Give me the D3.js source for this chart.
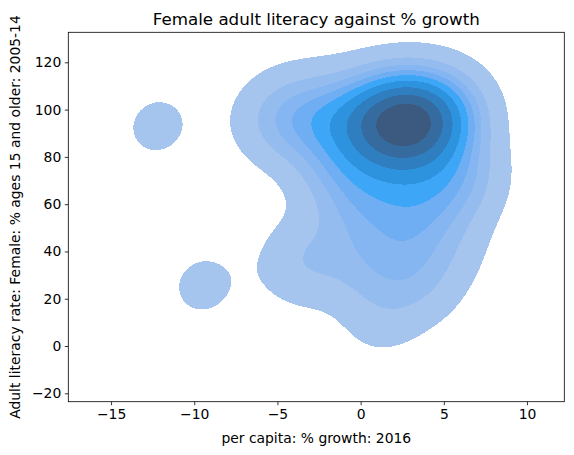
<!DOCTYPE html>
<html><head><meta charset="utf-8">
<script src="https://cdn.jsdelivr.net/npm/d3@7"></script>
<style>body{margin:0;background:#fff} svg{display:block} text{font-family:"DejaVu Sans",sans-serif;fill:#000}</style>
</head><body><svg id="c" width="574" height="455"></svg>
<script>
// per capita % growth 2016 (x) and female adult literacy % (y), one entry per country
const growth = [-12.2,-9.45,
  -3.6,-3.2,-0.4,0.2,1.3,1.9,2.7,3.4,3.9,5.3,
  -1.8,-0.4,-1.4,-0.6,0.3,0.8,1.4,1.9,2.4,2.7,3.2,3.7,4.2,4.8,5.5,5.7,6.4,
  -5.4,-4.6,-3.9,-3.1,-2.4,-1.7,-1.1,-0.5,0.0,0.5,0.9,1.2,1.5,1.8,2.0,2.2,2.4,2.6,2.8,3.0,
  3.2,3.4,3.6,3.9,4.2,4.6,4.8,5.1,5.2,5.6,2.4,1.0,3.5,1.9,3.0];
const literacy = [93,25.6,
  38,34,42,30,12,38,30,48,25,42,
  76,60,80,67,76,57,83,70,55,79,64,82,58,76,66,76,68,
  98,93,99.7,95,99,92,97,99.6,90,96,99.5,93,98,88,95,99.8,92,97,99.9,94,
  88,98,95,99.5,91,97,99,92,99.6,94,100,100,100,96,91];
const xTicks = [-15,-10,-5,0,5,10];
const yTicks = [-20,0,20,40,60,80,100,120];
const xDomain = [-17.57, 12.24];
const yDomain = [-23.55, 132.7];
const isoProps = d3.range(10).map(i => 0.05 + i * 0.95 / 9);
const bandColors = ["#a6c5ee","#94bcef","#85b6f1","#70aef4","#3ea6f7","#2d93de","#2f7ebf","#356b9e","#3c5a80"];

const svg = d3.select("#c");
const M = {l:68.3, r:564.3, t:32.3, b:401.7};
const x = d3.scaleLinear().domain(xDomain).range([M.l, M.r]);
const y = d3.scaleLinear().domain(yDomain).range([M.b, M.t]);

// Gaussian KDE (Scott's rule, full covariance)
const n = growth.length;
const mx = d3.mean(growth), my = d3.mean(literacy);
let sxx=0, syy=0, sxy=0;
for (let i=0;i<n;i++){const a=growth[i]-mx,b=literacy[i]-my;sxx+=a*a;syy+=b*b;sxy+=a*b;}
sxx/=(n-1); syy/=(n-1); sxy/=(n-1);
const f = Math.pow(n, -1/6);
const kxx=sxx*f*f, kyy=syy*f*f, kxy=sxy*f*f;
const det = kxx*kyy-kxy*kxy;
const ixx=kyy/det, iyy=kxx/det, ixy=-kxy/det;
const G = 200;
const gx0=xDomain[0], gdx=(xDomain[1]-xDomain[0])/(G-1);
const gy0=yDomain[0], gdy=(yDomain[1]-yDomain[0])/(G-1);
const values = new Float64Array(G*G);
for (let j=0;j<G;j++){
  const yy = gy0 + j*gdy;
  for (let i=0;i<G;i++){
    const xx = gx0 + i*gdx;
    let s=0;
    for (let k=0;k<n;k++){
      const a=xx-growth[k], b=yy-literacy[k];
      s += Math.exp(-0.5*(a*a*ixx + 2*a*b*ixy + b*b*iyy));
    }
    values[j*G+i]=s;
  }
}
const sorted = Array.from(values).sort((a,b)=>b-a);
const total = d3.sum(sorted);
const cum = []; let acc=0; for (const v of sorted){acc+=v;cum.push(acc/total);}
const levels = isoProps.map(p => {const idx = d3.bisectLeft(cum, 1-p); return sorted[Math.min(idx, sorted.length-1)];});

const contours = d3.contours().size([G,G]).thresholds(levels.slice(0,9))(values);
const proj = d3.geoTransform({point(px,py){ this.stream.point(x(gx0+(px-0.5)*gdx), y(gy0+(py-0.5)*gdy)); }});
const path = d3.geoPath(proj);

svg.append("clipPath").attr("id","clip").append("rect")
  .attr("x",M.l).attr("y",M.t).attr("width",M.r-M.l).attr("height",M.b-M.t);
svg.append("g").attr("clip-path","url(#clip)")
  .selectAll("path").data(contours).join("path")
  .attr("d", path).attr("fill",(d,i)=>bandColors[i]).attr("stroke","none")
  .attr("shape-rendering","crispEdges");

// axes
const xa = svg.append("g").attr("transform",`translate(0,${M.b})`)
  .call(d3.axisBottom(x).tickValues(xTicks).tickSize(3.5).tickPadding(3.5).tickFormat(d=>d<0?"\u2212"+(-d):d));
const ya = svg.append("g").attr("transform",`translate(${M.l},0)`)
  .call(d3.axisLeft(y).tickValues(yTicks).tickSize(3.5).tickPadding(3.5).tickFormat(d=>d<0?"\u2212"+(-d):d));
[xa,ya].forEach(g=>{g.select(".domain").remove();g.selectAll("line").attr("stroke","#000").attr("stroke-width",0.8);
  g.selectAll("text").attr("font-size","13.9px").attr("font-family","DejaVu Sans").attr("fill","#000");});
svg.append("rect").attr("x",M.l).attr("y",M.t).attr("width",M.r-M.l).attr("height",M.b-M.t)
  .attr("fill","none").attr("stroke","#000").attr("stroke-width",0.8);

svg.append("text").attr("x",(M.l+M.r)/2).attr("y",25).attr("text-anchor","middle")
  .attr("font-size","16.7px").text("Female adult literacy against % growth");
svg.append("text").attr("x",(M.l+M.r)/2).attr("y",443).attr("text-anchor","middle")
  .attr("font-size","13.9px").text("per capita: % growth: 2016");
svg.append("text").attr("transform",`translate(20,${(M.t+M.b)/2}) rotate(-90)`).attr("text-anchor","middle")
  .attr("font-size","13.9px").text("Adult literacy rate: Female: % ages 15 and older: 2005-14");
</script></body></html>
